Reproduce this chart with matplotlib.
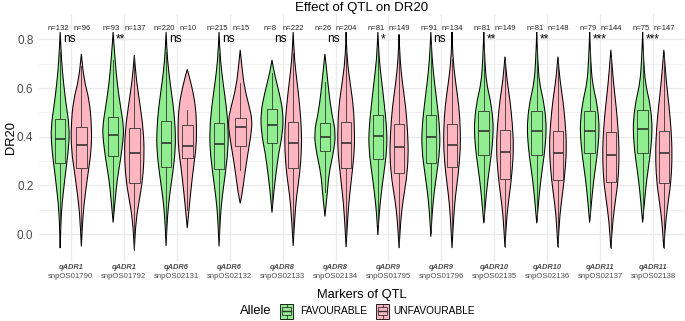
"""
Violin + box plots of DR20 by allele for each QTL marker.
"""

import matplotlib.pyplot as plt
from matplotlib.path import Path
from matplotlib.patches import PathPatch, Rectangle
from matplotlib.lines import Line2D

plt.rcParams['font.family'] = ['Liberation Sans', 'DejaVu Sans']

QTL = ['qADR1', 'qADR1', 'qADR6', 'qADR6', 'qADR8', 'qADR8',
       'qADR9', 'qADR9', 'qADR10', 'qADR10', 'qADR11', 'qADR11']
MARKERS = ['snpOS01790', 'snpOS01792', 'snpOS02131', 'snpOS02132',
           'snpOS02133', 'snpOS02134', 'snpOS01795', 'snpOS01796',
           'snpOS02135', 'snpOS02136', 'snpOS02137', 'snpOS02138']
ALLELES = ['FAVOURABLE', 'UNFAVOURABLE']
N_FAV = [132, 93, 220, 215, 8, 26, 81, 91, 81, 81, 79, 75]
N_UNF = [96, 137, 10, 15, 222, 204, 149, 134, 149, 148, 144, 147]
SIGNIF = ['ns', '**', 'ns', 'ns', 'ns', 'ns', '*', 'ns', '**', '**', '***', '***']

# (q1, median, q3)
FAV_BOX = [(.291, .391, .473), (.323, .406, .480), (.276, .373, .465),
           (.268, .371, .458), (.376, .447, .513), (.343, .401, .456),
           (.309, .405, .491), (.294, .398, .488), (.324, .425, .505),
           (.324, .425, .505), (.332, .425, .505), (.332, .431, .508)]
UNF_BOX = [(.271, .365, .439), (.212, .335, .435), (.312, .361, .447),
           (.362, .439, .476), (.272, .373, .461), (.271, .373, .462),
           (.250, .357, .451), (.275, .367, .453), (.226, .339, .428),
           (.223, .335, .423), (.216, .327, .421), (.209, .335, .425)]
# whisker ends (low, high)
FAV_WHISK = [(.018, .746), (.088, .716), (-.008, .749), (-.017, .743),
             (.12, .66), (.174, .626), (.036, .764), (.003, .779),
             (.053, .777), (.053, .777), (.073, .765), (.068, .772)]
UNF_WHISK = [(.019, .691), (-.064, .736), (.10, .508), (.264, .62),
             (-.012, .745), (-.016, .748), (-.052, .753), (.008, .72),
             (-.053, .729), (-.053, .723), (-.057, .728), (-.057, .749)]

# violin outlines: (DR20, half width in category units), top to bottom
FAV_VIOLIN = [
    [(.83, 0), (.715, .025), (.62, .063), (.524, .117), (.442, .173), (.36, .164), (.25, .1), (.168, .057), (.086, .019), (-.057, 0)],
    [(.83, 0), (.729, .032), (.62, .076), (.524, .139), (.442, .2), (.387, .189), (.305, .139), (.223, .076), (.141, .038), (.048, 0)],
    [(.83, 0), (.715, .025), (.62, .076), (.524, .139), (.428, .176), (.346, .176), (.25, .126), (.155, .063), (.073, .025), (-.048, 0)],
    [(.83, 0), (.715, .025), (.62, .076), (.524, .139), (.428, .176), (.346, .17), (.25, .12), (.155, .06), (.073, .025), (-.05, 0)],
    [(.715, 0), (.661, .044), (.579, .139), (.497, .214), (.414, .2), (.332, .126), (.25, .076), (.168, .032), (.089, 0)],
    [(.74, 0), (.661, .038), (.579, .076), (.497, .126), (.414, .208), (.332, .158), (.25, .076), (.168, .044), (.073, 0)],
    [(.83, 0), (.715, .025), (.62, .076), (.524, .126), (.428, .17), (.346, .17), (.25, .113), (.168, .063), (.086, .025), (-.003, 0)],
    [(.83, 0), (.715, .025), (.62, .07), (.524, .126), (.428, .17), (.346, .17), (.25, .113), (.168, .06), (.086, .025), (-.01, 0)],
    [(.83, 0), (.715, .019), (.62, .05), (.551, .126), (.469, .176), (.401, .176), (.319, .139), (.223, .076), (.141, .038), (.045, 0)],
    [(.83, 0), (.715, .019), (.62, .05), (.551, .126), (.469, .176), (.401, .176), (.319, .139), (.223, .076), (.141, .038), (.045, 0)],
    [(.83, 0), (.715, .019), (.62, .05), (.551, .126), (.469, .176), (.401, .176), (.319, .139), (.223, .076), (.141, .038), (.048, 0)],
    [(.83, 0), (.715, .019), (.62, .05), (.551, .126), (.469, .176), (.401, .176), (.319, .139), (.223, .076), (.141, .038), (.048, 0)],
]
UNF_VIOLIN = [
    [(.74, 0), (.633, .05), (.551, .151), (.442, .195), (.346, .189), (.25, .126), (.168, .076), (.086, .032), (-.05, 0)],
    [(.736, 0), (.633, .038), (.524, .113), (.428, .17), (.332, .189), (.223, .158), (.141, .095), (.059, .032), (-.064, 0)],
    [(.677, 0), (.606, .088), (.524, .158), (.442, .176), (.36, .17), (.278, .12), (.196, .076), (.114, .038), (.025, 0)],
    [(.757, 0), (.688, .032), (.606, .076), (.524, .17), (.469, .227), (.414, .208), (.332, .145), (.25, .088), (.168, .038), (.127, 0)],
    [(.83, 0), (.715, .025), (.62, .076), (.524, .126), (.428, .158), (.346, .158), (.25, .126), (.155, .063), (.073, .032), (-.048, 0)],
    [(.83, 0), (.715, .019), (.62, .076), (.524, .139), (.428, .158), (.346, .158), (.25, .113), (.155, .063), (.073, .032), (-.053, 0)],
    [(.82, 0), (.715, .019), (.62, .063), (.524, .126), (.414, .164), (.319, .176), (.223, .139), (.141, .076), (.059, .032), (-.057, 0)],
    [(.83, 0), (.715, .019), (.62, .07), (.524, .132), (.428, .158), (.346, .158), (.25, .12), (.155, .063), (.073, .032), (-.057, 0)],
    [(.729, 0), (.633, .038), (.551, .095), (.456, .139), (.36, .164), (.264, .139), (.168, .088), (.086, .038), (-.053, 0)],
    [(.729, 0), (.633, .038), (.551, .095), (.456, .139), (.36, .164), (.264, .139), (.168, .088), (.086, .038), (-.053, 0)],
    [(.757, 0), (.62, .05), (.524, .1), (.428, .139), (.332, .158), (.223, .139), (.141, .088), (.059, .038), (-.057, 0)],
    [(.757, 0), (.62, .05), (.524, .1), (.428, .139), (.332, .158), (.223, .139), (.141, .088), (.059, .038), (-.057, 0)],
]

FILLS = {'FAVOURABLE': '#90EE90', 'UNFAVOURABLE': '#FFB6C1'}
BOX_EDGE = '#333333'
GRID = '#EBEBEB'
DODGE = 0.2
BOX_HALF = 0.1
W, H = 685, 321


def smooth_side(pts):
    """Quadratic-bezier path pieces through midpoints of pts (tip to tip)."""
    verts = [pts[0]]
    codes = [Path.LINETO]
    mids = [((a[0] + b[0]) / 2, (a[1] + b[1]) / 2) for a, b in zip(pts[:-1], pts[1:])]
    verts.append(mids[0])
    codes.append(Path.LINETO)
    for i in range(1, len(pts) - 1):
        verts += [pts[i], mids[i]]
        codes += [Path.CURVE3, Path.CURVE3]
    verts.append(pts[-1])
    codes.append(Path.LINETO)
    return verts, codes


def violin_patch(cx, profile, color):
    right = [(cx + w, y) for y, w in profile]
    left = [(cx - w, y) for y, w in profile[::-1]]
    v1, c1 = smooth_side(right)
    v2, c2 = smooth_side(left)
    verts = v1 + v2[1:] + [v1[0]]
    codes = [Path.MOVETO] + c1[1:] + c2[1:] + [Path.CLOSEPOLY]
    return PathPatch(Path(verts, codes), facecolor=color, edgecolor='black',
                     linewidth=0.75, zorder=2)


def draw_box(ax, cx, box, whisk, color):
    q1, med, q3 = box
    lo, hi = whisk
    ax.plot([cx, cx], [q3, hi], color=BOX_EDGE, lw=0.6, zorder=3)
    ax.plot([cx, cx], [lo, q1], color=BOX_EDGE, lw=0.6, zorder=3)
    ax.add_patch(Rectangle((cx - BOX_HALF, q1), 2 * BOX_HALF, q3 - q1,
                           facecolor=color, edgecolor=BOX_EDGE, lw=0.6, zorder=3))
    ax.plot([cx - BOX_HALF, cx + BOX_HALF], [med, med], color=BOX_EDGE,
            lw=1.2, zorder=4, solid_capstyle='butt')


def px(x, y):
    return x / W, (H - y) / H


def main():
    fig = plt.figure(figsize=(W / 100, H / 100), dpi=100)
    left, right = 39 / W, 1.0
    bottom, top = (H - 261) / H, (H - 14) / H
    ax = fig.add_axes([left, bottom, right - left, top - bottom])

    ncat = len(MARKERS)
    ax.set_xlim(-0.6, ncat - 0.4)
    ax.set_ylim(-0.11, 0.904)
    ax.set_yticks([0, 0.2, 0.4, 0.6, 0.8])
    ax.set_yticks([0.1, 0.3, 0.5, 0.7], minor=True)
    ax.set_xticks(range(ncat))
    ax.set_xticklabels([''] * ncat)
    ax.grid(which='major', color=GRID, lw=1.0, zorder=0)
    ax.grid(which='minor', axis='y', color=GRID, lw=0.5, zorder=0)
    ax.set_axisbelow(True)
    for s in ax.spines.values():
        s.set_visible(False)
    ax.tick_params(which='both', length=0)
    ax.tick_params(axis='y', labelsize=8.5, labelcolor='#4D4D4D', pad=4)

    xt = ax.get_xaxis_transform()
    for i in range(ncat):
        groups = [
            (i - DODGE - 0.02, FAV_VIOLIN[i], FAV_BOX[i], FAV_WHISK[i], FILLS[ALLELES[0]], N_FAV[i]),
            (i + DODGE, UNF_VIOLIN[i], UNF_BOX[i], UNF_WHISK[i], FILLS[ALLELES[1]], N_UNF[i]),
        ]
        for j, (cx, prof, box, whisk, col, n) in enumerate(groups):
            if j == 0:
                cx += 0.02
            ax.add_patch(violin_patch(cx, prof, col))
            draw_box(ax, cx, box, whisk, col)
            lx = cx - 0.03 if j == 0 else cx + 0.01
            ax.text(lx, 0.845, f'n={n}', fontsize=5.5, ha='center', va='center',
                    color='#222222')
        ax.text(i - 0.15, 0.8, SIGNIF[i], fontsize=8.5, ha='left', va='center')

        ax.text(i, -0.028, QTL[i], transform=xt, fontsize=5.4, ha='center',
                va='center', style='italic', weight='bold', color='#4D4D4D')
        ax.text(i, -0.064, MARKERS[i], transform=xt, fontsize=5.6, ha='center',
                va='center', color='#4D4D4D')

    cx_fig = (left + right) / 2
    fig.text(cx_fig, px(0, 8)[1], 'Effect of QTL on DR20', fontsize=9.5,
             ha='center', va='center')
    fig.text(cx_fig, px(0, 295)[1], 'Markers of QTL', fontsize=9.3,
             ha='center', va='center')
    fig.text(px(11, 0)[0], px(0, 137.5)[1], 'DR20', fontsize=9.3,
             rotation=90, ha='center', va='center')

    # legend
    ly = 311
    fig.text(*px(240, ly), 'Allele', fontsize=9.3, ha='left', va='center')
    keys = [(280, 300), (376, 393)]
    kw, kh = 13, 15
    for (kx, tx), allele in zip(keys, ALLELES):
        col = FILLS[allele]
        x0, y0 = px(kx, ly + kh / 2)
        fig.add_artist(Rectangle((x0, y0), kw / W, kh / H, transform=fig.transFigure,
                                 facecolor=col, edgecolor='black', lw=0.6))
        bx0, by0 = px(kx + 2, ly + kh / 4)
        fig.add_artist(Rectangle((bx0, by0), (kw - 4) / W, (kh / 2) / H,
                                 transform=fig.transFigure, facecolor=col,
                                 edgecolor=BOX_EDGE, lw=0.6))
        mx = (kx + kw / 2) / W
        for ya, yb in [(ly - kh / 2 + 1, ly - kh / 4), (ly + kh / 4, ly + kh / 2 - 1)]:
            fig.add_artist(Line2D([mx, mx], [px(0, ya)[1], px(0, yb)[1]],
                                  transform=fig.transFigure, color=BOX_EDGE, lw=0.6))
        fig.add_artist(Line2D([bx0, bx0 + (kw - 4) / W], [px(0, ly)[1]] * 2,
                              transform=fig.transFigure, color=BOX_EDGE, lw=1.0))
        fig.text(*px(tx, ly), allele, fontsize=7.3, ha='left', va='center')

    fig.savefig('out.png', dpi=100)
    plt.close()


if __name__ == '__main__':
    main()
